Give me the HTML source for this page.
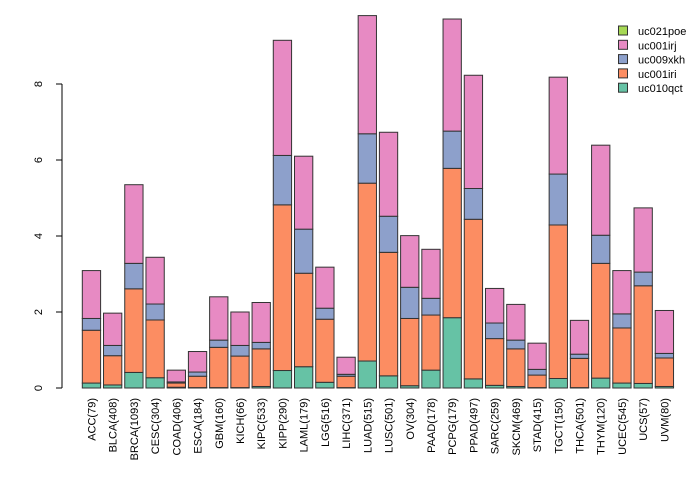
<!DOCTYPE html>
<html><head><meta charset="utf-8"><style>
body{margin:0;background:#fff}
text{font-family:"Liberation Sans",sans-serif;font-size:11px;fill:#000}
</style></head><body>
<svg id="chart" width="700" height="480"></svg>
<script>
const categories=["ACC(79)","BLCA(408)","BRCA(1093)","CESC(304)","COAD(406)","ESCA(184)","GBM(160)","KICH(66)","KIPC(533)","KIPP(290)","LAML(179)","LGG(516)","LIHC(371)","LUAD(515)","LUSC(501)","OV(304)","PAAD(178)","PCPG(179)","PPAD(497)","SARC(259)","SKCM(469)","STAD(415)","TGCT(150)","THCA(501)","THYM(120)","UCEC(545)","UCS(57)","UVM(80)"];
const uc010qct=[0.13,0.08,0.41,0.27,0.02,0.01,0.01,0.01,0.04,0.46,0.56,0.15,0.01,0.71,0.32,0.06,0.47,1.85,0.24,0.07,0.04,0.01,0.25,0.01,0.26,0.13,0.12,0.04];
const uc001iri=[1.39,0.77,2.20,1.52,0.11,0.30,1.06,0.83,0.99,4.36,2.46,1.66,0.30,4.68,3.25,1.77,1.45,3.93,4.20,1.23,0.99,0.33,4.04,0.77,3.02,1.45,2.57,0.75];
const uc009xkh=[0.31,0.27,0.67,0.42,0.03,0.11,0.19,0.28,0.17,1.30,1.16,0.29,0.05,1.30,0.95,0.82,0.44,0.98,0.81,0.41,0.23,0.15,1.34,0.11,0.74,0.37,0.36,0.12];
const uc001irj=[1.26,0.85,2.07,1.23,0.31,0.54,1.14,0.88,1.05,3.03,1.92,1.08,0.45,3.11,2.21,1.36,1.29,2.95,2.98,0.91,0.94,0.69,2.55,0.89,2.37,1.14,1.69,1.13];
const uc021poe=categories.map(()=>0);
const yTicks=[0,2,4,6,8];
const seriesNames=["uc010qct","uc001iri","uc009xkh","uc001irj","uc021poe"];
const seriesData=[uc010qct,uc001iri,uc009xkh,uc001irj,uc021poe];
const colors=["#66c2a5","#fc8d62","#8da0cb","#e78ac3","#a6d854"];

const NS="http://www.w3.org/2000/svg";
const svg=document.getElementById('chart');
function mk(t,a,p){const e=document.createElementNS(NS,t);for(const k in a)e.setAttribute(k,a[k]);(p||svg).appendChild(e);return e;}
const y0=388,pxPerUnit=38;
const yScale=v=>y0-v*pxPerUnit;
const x0=82.3,pitch=21.22,bw=18.3;
const xScale=i=>x0+i*pitch;

// axis
const ax=mk('g',{});


mk('line',{x1:62,x2:62,y1:yScale(0),y2:yScale(yTicks[yTicks.length-1]),stroke:'#000'},ax);
yTicks.forEach(t=>{
  const y=yScale(t);
  mk('line',{x1:56,x2:62,y1:y,y2:y,stroke:'#000'},ax);
  const tx=mk('text',{x:42,y:y,transform:`rotate(-90 42 ${y})`,'text-anchor':'middle'},ax);
  tx.textContent=t;
  
  
});

// bars
categories.forEach((c,i)=>{
  const g=mk('g',{});
  
  
  let cum=0;
  seriesData.forEach((s,k)=>{
    const v=s[i];
    if(v<=0)return;
    const top=yScale(cum+v),bot=yScale(cum);
    const r=mk('rect',{x:xScale(i),y:top,width:bw,height:bot-top,fill:colors[k],stroke:'#333','stroke-width':1},g);
    
    
    cum+=v;
  });
  const lx=xScale(i)+bw/2+4,ly=398;
  const t=mk('text',{x:lx,y:ly,transform:`rotate(-90 ${lx} ${ly})`,'text-anchor':'end'});
  t.textContent=c;
  
  
});

// legend
const lg=mk('g',{});


const legendOrder=[4,3,2,1,0];
legendOrder.forEach((k,j)=>{
  const y=26+j*14.3;
  const e=mk('g',{},lg);
  
  
  mk('rect',{x:618.5,y:y,width:9,height:9,fill:colors[k],stroke:'#333'},e);
  const t=mk('text',{x:638,y:y+9},e);
  t.textContent=seriesNames[k];
});
</script>
</body></html>
